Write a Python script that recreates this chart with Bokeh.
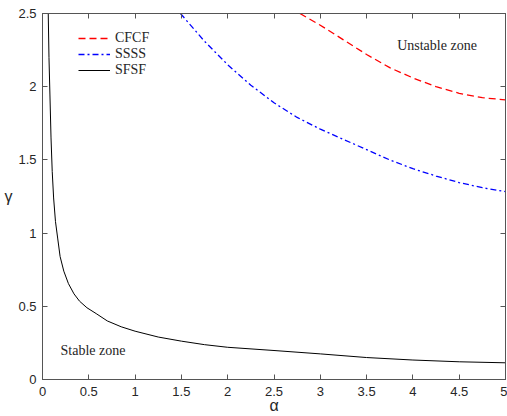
from bokeh.plotting import figure
from bokeh.models import Legend, LegendItem, LinearAxis, FixedTicker
from bokeh.core.properties import value
from bokeh.embed import file_html
from bokeh.resources import INLINE

# ---- data ----
alpha_sfsf = [0.062, 0.070, 0.080, 0.092, 0.105, 0.12, 0.14, 0.165, 0.19, 0.23, 0.28, 0.34, 0.40, 0.48,
              0.58, 0.70, 0.85, 1.0, 1.25, 1.5, 1.75, 2.0, 2.5, 3.0, 3.5, 4.0, 4.5, 5.0]
gamma_sfsf = [2.5, 2.2, 1.95, 1.65, 1.42, 1.24, 1.08, 0.96, 0.84, 0.74, 0.655, 0.585, 0.535, 0.49,
              0.45, 0.40, 0.36, 0.33, 0.29, 0.262, 0.238, 0.22, 0.198, 0.175, 0.150, 0.133, 0.121, 0.114]

alpha_ssss = [1.49, 1.75, 2.0, 2.25, 2.5, 2.75, 3.0, 3.25, 3.5, 3.75, 4.0, 4.25, 4.5, 4.75, 5.0]
gamma_ssss = [2.5, 2.31, 2.15, 2.01, 1.89, 1.79, 1.71, 1.64, 1.57, 1.50, 1.44, 1.39, 1.345, 1.31, 1.283]

alpha_cfcf = [2.78, 3.0, 3.25, 3.5, 3.75, 4.0, 4.25, 4.5, 4.75, 5.0]
gamma_cfcf = [2.5, 2.42, 2.32, 2.22, 2.13, 2.06, 2.0, 1.955, 1.925, 1.91]

series_names = ["CFCF", "SSSS", "SFSF"]

x_ticks = [0, 0.5, 1, 1.5, 2, 2.5, 3, 3.5, 4, 4.5, 5]
x_tick_labels = ["0", "0.5", "1", "1.5", "2", "2.5", "3", "3.5", "4", "4.5", "5"]
y_ticks = [0, 0.5, 1, 1.5, 2, 2.5]
y_tick_labels = ["0", "0.5", "1", "1.5", "2", "2.5"]

zone_texts = ["Unstable zone", "Stable zone"]
zone_x = [3.83, 0.195]
zone_y = [2.28, 0.198]

AX = "#555555"
TXT = "#262626"

p = figure(width=507, height=416, x_range=(0, 5), y_range=(0, 2.5),
           output_backend="svg", toolbar_location=None,
           min_border_left=42, min_border_right=2, min_border_top=13, min_border_bottom=30)
p.grid.visible = False
p.outline_line_color = AX
p.outline_line_width = 1
p.background_fill_color = "white"
p.border_fill_color = "white"

r_cfcf = p.line(alpha_cfcf, gamma_cfcf, line_color="red", line_width=1.3, line_dash="7 4")
r_ssss = p.line(alpha_ssss, gamma_ssss, line_color="blue", line_width=1.3, line_dash="6 3 2 3")
r_sfsf = p.line(alpha_sfsf, gamma_sfsf, line_color="black", line_width=1)

p.text(x=zone_x, y=zone_y, text=zone_texts, text_font=value("Liberation Serif"),
       text_font_size="14px", text_baseline="middle", text_align="left", text_color=TXT)

def style_axis(ax, ticks, labels, show_labels=True):
    ax.ticker = FixedTicker(ticks=ticks)
    ax.major_label_overrides = {t: l for t, l in zip(ticks, labels)}
    ax.major_tick_in = 5
    ax.major_tick_out = 0
    ax.minor_tick_line_color = None
    ax.axis_line_color = AX
    ax.major_tick_line_color = AX
    ax.major_label_text_font = "Liberation Sans"
    ax.major_label_text_color = TXT
    if show_labels:
        ax.major_label_text_font_size = "13px"
        ax.major_label_standoff = 6
    else:
        ax.major_label_text_font_size = "0px"
        ax.major_label_text_alpha = 0
        ax.major_label_standoff = 0

style_axis(p.xaxis[0], x_ticks, x_tick_labels)
style_axis(p.yaxis[0], y_ticks, y_tick_labels)
p.xaxis[0].major_label_standoff = 7
p.xaxis.axis_label = "α"
p.yaxis.axis_label = "γ"
for ax in (p.xaxis[0], p.yaxis[0]):
    ax.axis_label_text_font = "Liberation Sans"
    ax.axis_label_text_font_size = "16px"
    ax.axis_label_text_font_style = "normal"
    ax.axis_label_text_color = TXT
p.xaxis[0].axis_label_standoff = -2
p.yaxis[0].axis_label_standoff = 3
try:
    p.yaxis[0].axis_label_orientation = "horizontal"
except Exception:
    pass

top = LinearAxis()
style_axis(top, x_ticks, x_tick_labels, show_labels=False)
p.add_layout(top, "above")
right = LinearAxis()
style_axis(right, y_ticks, y_tick_labels, show_labels=False)
p.add_layout(right, "right")

legend = Legend(items=[LegendItem(label=series_names[0], renderers=[r_cfcf]),
                       LegendItem(label=series_names[1], renderers=[r_ssss]),
                       LegendItem(label=series_names[2], renderers=[r_sfsf])],
                location=(36, 301), padding=0, margin=0, spacing=0,
                glyph_width=32, glyph_height=16, label_height=16, label_standoff=5,
                border_line_alpha=0, background_fill_alpha=0,
                label_text_font="Liberation Serif", label_text_font_size="14px",
                label_text_color=TXT)
p.add_layout(legend)

open("out.html", "w").write(file_html(p, INLINE))
